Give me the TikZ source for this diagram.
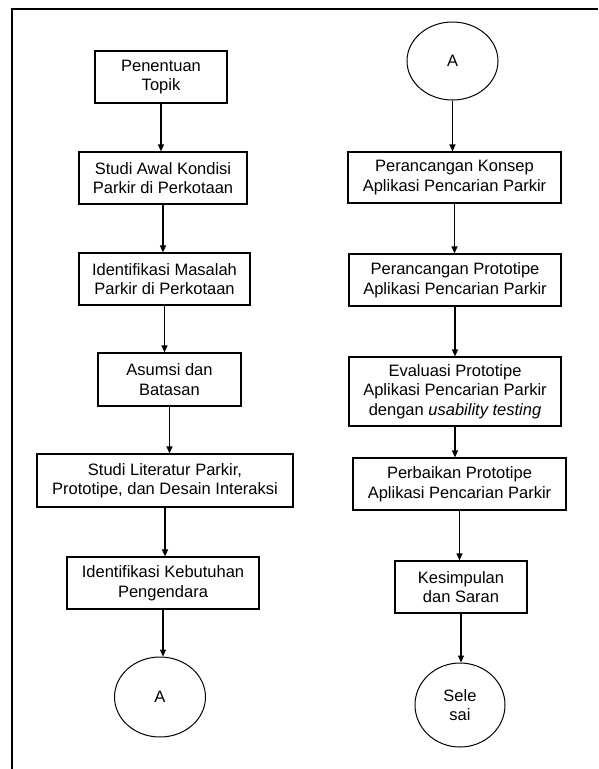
\documentclass[tikz,border=0pt]{standalone}
\usepackage{fontspec}
\setmainfont{Liberation Sans}
\usetikzlibrary{shapes.geometric,arrows.meta}

\begin{document}
\begin{tikzpicture}[x=1pt,y=-1pt]
				\tikzset{proses/.style={
						draw,
						line width=1.2pt,
						align=center,
						inner sep=0pt,
						minimum height=52pt,
						font=\fontsize{16.5}{19.5}\selectfont},
					konektor/.style={
						ellipse,
						draw,
						line width=1pt,
						inner sep=0pt,
						minimum width=91pt,
						minimum height=80pt,
						align=center,
						font=\fontsize{16.5}{19.5}\selectfont},
					alur/.style={-{Triangle[length=7pt,width=6pt]}, line width=1.2pt}}
				\useasboundingbox (0,0) rectangle (598,769);
				
				%% BINGKAI
				\draw[line width=2pt] (598,9) -- (12,9) -- (12,769);
				
				%% KOLOM KIRI
				\node[proses, minimum width=132pt] (Topik) at (161,77) {Penentuan\\Topik};
				\node[proses, minimum width=168pt] (StudiAwal) at (163,178) {Studi Awal Kondisi\\Parkir di Perkotaan};
				\node[proses, minimum width=171pt] (IdMasalah) at (164.5,279) {Identifikasi Masalah\\Parkir di Perkotaan};
				\node[proses, minimum width=143pt, minimum height=53pt] (Asumsi) at (169.5,379.5) {Asumsi dan\\Batasan};
				\node[proses, minimum width=256pt, minimum height=53pt] (Literatur) at (165,480.5) {Studi Literatur Parkir,\\Prototipe, dan Desain Interaksi};
				\node[proses, minimum width=192pt] (IdKebutuhan) at (163,583) {Identifikasi Kebutuhan\\Pengendara};
				\node[konektor] (AKiri) at (160,697) {A};
				
				%% KOLOM KANAN
				\node[konektor, minimum height=78pt] (AKanan) at (452.5,61) {A};
				\node[proses, minimum width=213pt, minimum height=51pt] (Konsep) at (454.5,177.5) {Perancangan Konsep\\Aplikasi Pencarian Parkir};
				\node[proses, minimum width=212pt] (Prototipe) at (455,280) {Perancangan Prototipe\\Aplikasi Pencarian Parkir};
				\node[proses, minimum width=212pt, minimum height=69pt] (Evaluasi) at (455,391.5) {Evaluasi Prototipe\\Aplikasi Pencarian Parkir\\dengan \textit{usability testing}};
				\node[proses, minimum width=213pt] (Perbaikan) at (459.5,484) {Perbaikan Prototipe\\Aplikasi Pencarian Parkir};
				\node[proses, minimum width=132pt] (Kesimpulan) at (461,587) {Kesimpulan\\dan Saran};
				\node[konektor, minimum width=90pt, minimum height=84pt] (Selesai) at (460,705) {Sele\\sai};
				
				\draw[alur] (Topik.south) -- (Topik.south |- StudiAwal.north);
				\draw[alur] (StudiAwal.south) -- (StudiAwal.south |- IdMasalah.north);
				\draw[alur] (IdMasalah.south) -- (IdMasalah.south |- Asumsi.north);
				\draw[alur] (Asumsi.south) -- (Asumsi.south |- Literatur.north);
				\draw[alur] (Literatur.south) -- (Literatur.south |- IdKebutuhan.north);
				\draw[alur] (IdKebutuhan.south) -- (IdKebutuhan.south |- AKiri.north);
				
				\draw[alur] (AKanan.south) -- (AKanan.south |- Konsep.north);
				\draw[alur] (Konsep.south) -- (Konsep.south |- Prototipe.north);
				\draw[alur] (Prototipe.south) -- (Prototipe.south |- Evaluasi.north);
				\draw[alur] (Evaluasi.south) -- (Evaluasi.south |- Perbaikan.north);
				\draw[alur] (Perbaikan.south) -- (Perbaikan.south |- Kesimpulan.north);
				\draw[alur] (Kesimpulan.south) -- (Kesimpulan.south |- Selesai.north);
				
			\end{tikzpicture}
\end{document}
